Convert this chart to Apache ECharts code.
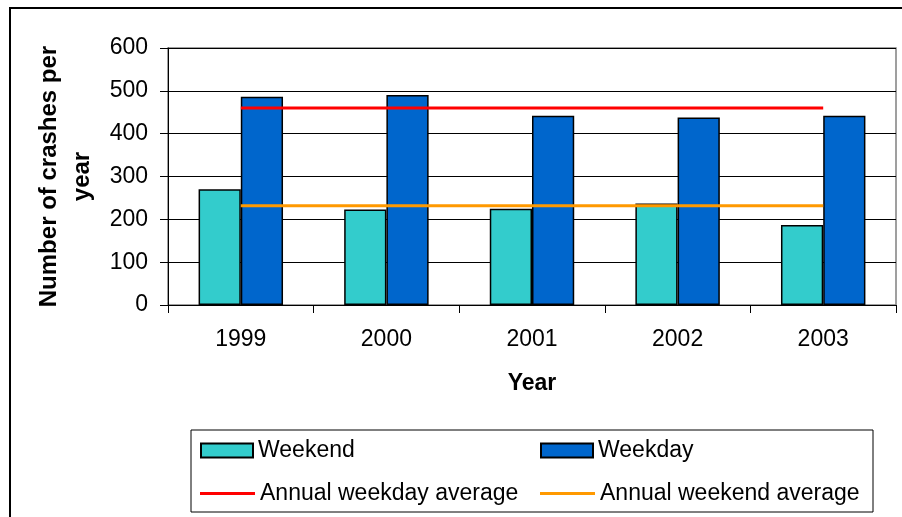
<!DOCTYPE html>
<html>
<head>
<meta charset="utf-8">
<script src="https://cdn.jsdelivr.net/npm/echarts@6/dist/echarts.min.js"></script>
<style>
  html, body { margin: 0; padding: 0; background: #fff; }
  #container { width: 902px; height: 517px; }
</style>
</head>
<body>
<div id="container"></div>
<script>
// data
var years = ['1999', '2000', '2001', '2002', '2003'];
var weekend = [270, 223, 225, 237, 187];
var weekday = [486, 490, 442, 438, 442];
var weekdayAvg = [460, 460, 460, 460, 460];
var weekendAvg = [232, 232, 232, 232, 232];
var yTicks = [0, 100, 200, 300, 400, 500, 600];

var font = 'Arial, "Liberation Sans", sans-serif';

var dom = document.getElementById('container');
var myChart = echarts.init(dom, null, {renderer: 'canvas'});

var legendText = {color: '#000', fontFamily: font, fontSize: 23};

option = {
    animation: false,
    backgroundColor: '#fff',
    textStyle: {fontFamily: font},
    grid: {
        left: 168,
        top: 48,
        right: 6,
        bottom: 212,
        show: true,
        borderColor: '#808080',
        borderWidth: 1.5
    },
    // outer frame + legend box
    graphic: [
        {
            type: 'rect',
            shape: {x: 10, y: 8, width: 1000, height: 600},
            style: {fill: 'none', stroke: '#000', lineWidth: 2},
            silent: true
        },
        {
            type: 'rect',
            shape: {x: 191, y: 430, width: 682, height: 82},
            style: {fill: 'none', stroke: '#000', lineWidth: 1},
            silent: true
        }
    ],
    legend: [
        {data: [{name: 'Weekend', icon: 'rect'}], left: 195, top: 434, itemWidth: 52, itemHeight: 14, textStyle: legendText},
        {data: [{name: 'Weekday', icon: 'rect'}], left: 535, top: 434, itemWidth: 52, itemHeight: 14, textStyle: legendText},
        {data: [{name: 'Annual weekday average', icon: 'rect'}], left: 195, top: 477, itemWidth: 55, itemHeight: 3,
            lineStyle: {width: 3}, textStyle: legendText},
        {data: [{name: 'Annual weekend average', icon: 'rect'}], left: 535, top: 477, itemWidth: 55, itemHeight: 3,
            lineStyle: {width: 3}, textStyle: legendText}
    ],
    xAxis: {
        type: 'category',
        data: years,
        boundaryGap: true,
        axisLine: {lineStyle: {color: '#000', width: 1}},
        axisTick: {show: true, length: 8, lineStyle: {color: '#000'}},
        axisLabel: {color: '#000', fontSize: 23, fontFamily: font, margin: 23},
        name: 'Year',
        nameLocation: 'middle',
        nameGap: 67,
        nameTextStyle: {color: '#000', fontSize: 23, fontWeight: 'bold', fontFamily: font}
    },
    yAxis: {
        type: 'value',
        min: yTicks[0],
        max: yTicks[yTicks.length - 1],
        interval: 100,
        axisLine: {show: true, lineStyle: {color: '#000', width: 1}},
        axisTick: {show: true, length: 8, lineStyle: {color: '#000'}},
        axisLabel: {color: '#000', fontSize: 23, fontFamily: font, margin: 20},
        splitLine: {lineStyle: {color: '#000', width: 1}},
        name: 'Number of crashes per\nyear',
        nameLocation: 'middle',
        nameRotate: 90,
        nameGap: 61,
        nameTextStyle: {color: '#000', fontSize: 24, fontWeight: 'bold', fontFamily: font, lineHeight: 33, align: 'center'}
    },
    series: [
        {
            name: 'Weekend',
            type: 'bar',
            data: weekend,
            barGap: '0%',
            barCategoryGap: '42%',
            itemStyle: {color: '#33CCCC', borderColor: '#000', borderWidth: 1.5}
        },
        {
            name: 'Weekday',
            type: 'bar',
            data: weekday,
            itemStyle: {color: '#0066CC', borderColor: '#000', borderWidth: 1.5}
        },
        {
            name: 'Annual weekday average',
            type: 'line',
            data: weekdayAvg,
            symbol: 'none',
            lineStyle: {color: '#FF0000', width: 3},
            itemStyle: {color: '#FF0000'}
        },
        {
            name: 'Annual weekend average',
            type: 'line',
            data: weekendAvg,
            symbol: 'none',
            lineStyle: {color: '#FF9900', width: 3},
            itemStyle: {color: '#FF9900'}
        }
    ]
};

if (option && typeof option === 'object') {
    myChart.setOption(option, true);
}
</script>
</body>
</html>
